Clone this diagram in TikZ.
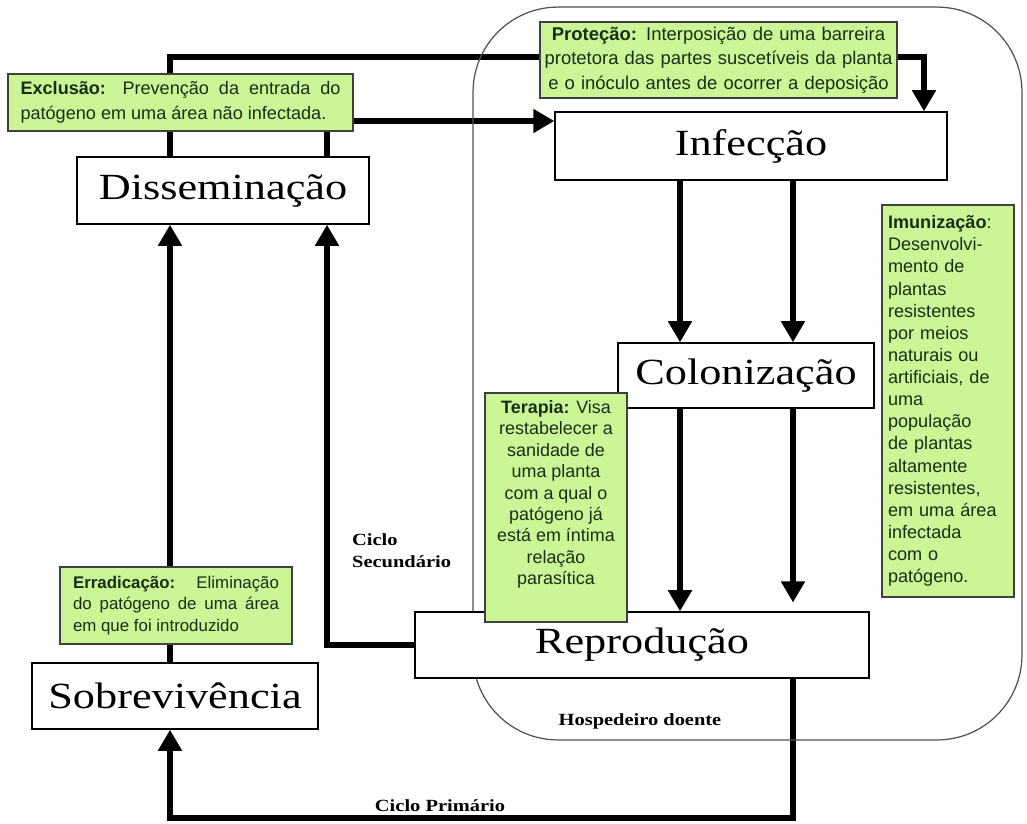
\documentclass[tikz,border=0pt]{standalone}
\usepackage{fontspec}
\usetikzlibrary{arrows.meta,backgrounds}

\newfontfamily\stagefont[FakeStretch=1.2]{Liberation Serif}
\newfontfamily\notefont{Liberation Sans}
\definecolor{notegreen}{RGB}{204,246,150}
\definecolor{noteink}{RGB}{25,45,25}
\definecolor{hostline}{RGB}{80,80,80}

\begin{document}
\begin{tikzpicture}[x=0.02cm, y=-0.02cm,
  stage/.style={draw, line width=0.8pt, fill=white, inner sep=0pt, font=\stagefont\fontsize{21}{24}\selectfont},
  note/.style={draw=black!75, line width=0.8pt, fill=notegreen, text=noteink, inner sep=0pt, font=\notefont\fontsize{10.2}{12.2}\selectfont},
  flow/.style={line width=3.8pt, -{Triangle[width=13pt,length=12pt]}},
  tag/.style={font=\stagefont\bfseries\fontsize{9.7}{12.5}\selectfont}]

\useasboundingbox (0,0) rectangle (1027,823);

% diseased host
\node[draw=hostline, line width=0.7pt, rounded corners=1.7cm, minimum width=10.98cm, minimum height=14.66cm] (host) at (747.5,373.5) {};
\node[tag] (hostlabel) at (640,721) {Hospedeiro doente};

% stages
\node[stage, minimum width=5.84cm, minimum height=1.34cm] (dis) at (223,190.5) {Disseminação};
\node[stage, minimum width=7.84cm, minimum height=1.36cm] (inf) at (751,146) {Infecção};
\node[stage, minimum width=5.12cm, minimum height=1.3cm] (col) at (746,375.5) {Colonização};
\node[stage, minimum width=9.08cm, minimum height=1.32cm] (rep) at (642,645) {Reprodução};
\node[stage, minimum width=5.72cm, minimum height=1.32cm] (sob) at (175,696) {Sobrevivência};

% control measures
\node[note, minimum width=6.9cm, minimum height=1.14cm, text width=6.4cm, align=justify, font=\notefont\fontsize{10.3}{14}\selectfont] (exc) at (180.5,102.5)
  {\textbf{Exclusão:} Prevenção da entrada do\linebreak patógeno em uma área não infectada.};
\node[note, minimum width=7.14cm, minimum height=1.52cm, text width=7cm, align=center, font=\notefont\fontsize{10.5}{14}\selectfont] (pro) at (718.5,60)
  {\textbf{Proteção:} Interposição de uma barreira\\ protetora das partes suscetíveis da planta\\ e o inóculo antes de ocorrer a deposição};
\node[note, minimum width=4.64cm, minimum height=1.54cm, text width=4.12cm, align=justify, font=\notefont\fontsize{9.6}{12.2}\selectfont] (era) at (176,605.5)
  {\textbf{Erradicação:} Eliminação\linebreak do patógeno de uma área\linebreak em que foi introduzido};
\node[note, minimum width=2.84cm, minimum height=4.58cm] (ter) at (556,507.5)
  {\parbox[c][4.5cm][t]{2.7cm}{\centering\vspace*{3pt}\textbf{Terapia:} Visa\\ restabelecer a\\ sanidade de\\ uma planta\\ com a qual o\\ patógeno já\\ está em íntima\\ relação\\ parasítica}};
\node[note, minimum width=2.64cm, minimum height=7.84cm, text width=2.4cm, align=left, font=\notefont\fontsize{10.3}{12.6}\selectfont] (imu) at (948,401)
  {\textbf{Imunização}:\\ Desenvolvi-\\ mento de\\ plantas\\ resistentes\\ por meios\\ naturais ou\\ artificiais, de\\ uma\\ população\\ de plantas\\ altamente\\ resistentes,\\ em uma área\\ infectada\\ com o\\ patógeno.};

% cycle labels
\node[tag, align=left, anchor=west] (sec) at (346,551) {Ciclo\\Secundário};
\node[tag] (prim) at (440,806) {Ciclo Primário};

% connectors
\coordinate (xl) at (170,0);
\coordinate (xr) at (327,0);
\coordinate (xa) at (680,0);
\coordinate (xb) at (793,0);
\coordinate (xp) at (924,0);
\coordinate (ytop) at (0,57);
\coordinate (yin) at (0,121);
\coordinate (ybot) at (0,818);

\begin{scope}[on background layer]
\draw[flow] (dis.north -| xl) -- (xl |- ytop) -| (inf.north -| xp);
\draw[flow] (dis.north -| xr) |- (inf.west |- yin);
\draw[flow] (inf.south -| xa) -- (col.north -| xa);
\draw[flow] (inf.south -| xb) -- (col.north -| xb);
\draw[flow] (col.south -| xa) -- (rep.north -| xa);
\draw[flow, shorten >=5pt] (col.south -| xb) -- (rep.north -| xb);
\draw[flow] (rep.west) -| (dis.south -| xr);
\draw[flow] (rep.south -| xb) -- (xb |- ybot) -- (xl |- ybot) -- (sob.south -| xl);
\draw[flow] (sob.north -| xl) -- (dis.south -| xl);
\end{scope}

\end{tikzpicture}
\end{document}
